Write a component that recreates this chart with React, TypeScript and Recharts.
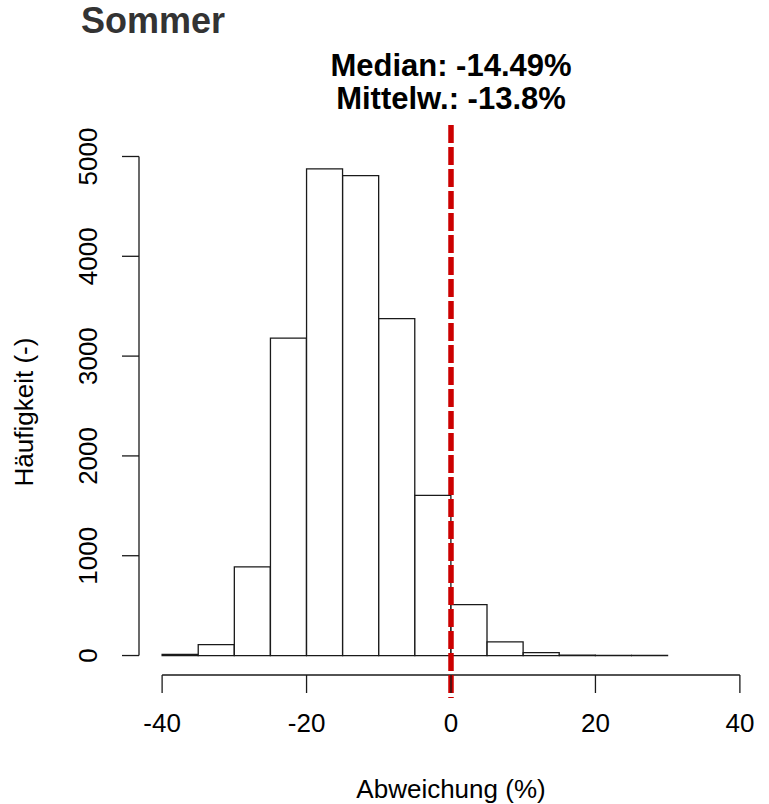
import React from 'react';
import { ComposedChart, Bar, XAxis, YAxis, ReferenceLine } from 'recharts';

// ---- data ----
const binStarts = [-40, -35, -30, -25, -20, -15, -10, -5, 0, 5, 10, 15, 20, 25];
const binWidth = 5;
const counts = [12, 110, 888, 3181, 4875, 4808, 3375, 1605, 511, 136, 30, 4, 2, 1];
const xTicks = [-40, -20, 0, 20, 40];
const yTicks = [0, 1000, 2000, 3000, 4000, 5000];
const xDomain: [number, number] = [-43.2, 43.2];
const yDomain: [number, number] = [-195, 5070];
const refX = 0;
const refLineYRange = [-426, 5316];
const titleText = 'Sommer';
const statLines = ['Median: -14.49%', 'Mittelw.: -13.8%'];
const xLabel = 'Abweichung (%)';
const yLabel = 'Häufigkeit (-)';

const data = binStarts.map((s, i) => ({ mid: s + binWidth / 2, count: counts[i] }));

const FONT = '"Liberation Sans", Arial, Helvetica, sans-serif';
const W = 769;
const H = 804;

const XTick = (props: any) => {
  const { x, y, payload } = props;
  return (
    <text x={x} y={y} dy="0.71em" textAnchor="middle" fontSize={26} fontFamily={FONT} fill="#000">
      {payload.value}
    </text>
  );
};

const YTick = (props: any) => {
  const { x, y, payload } = props;
  return (
    <text
      transform={`translate(${x},${y}) rotate(-90)`}
      textAnchor="middle"
      fontSize={26}
      fontFamily={FONT}
      fill="#000"
    >
      {payload.value}
    </text>
  );
};

export default function App() {
  return (
    <div style={{ position: 'absolute', left: 0, top: 0, width: W, height: H, background: '#fff', overflow: 'hidden' }}>
      <ComposedChart
        width={W}
        height={H}
        data={data}
        margin={{ top: 149.5, right: 6, bottom: 5, left: 0 }}
        barCategoryGap={0}
        barGap={0}
      >
        <XAxis
          dataKey="mid"
          type="number"
          domain={xDomain}
          ticks={xTicks}
          allowDataOverflow
          axisLine={false}
          tickLine={{ stroke: '#1a1a1a', strokeWidth: 1.3 }}
          tickSize={18}
          tickMargin={21}
          tick={<XTick />}
          height={124}
          interval={0}
        />
        <YAxis
          type="number"
          domain={yDomain}
          ticks={yTicks}
          allowDataOverflow
          axisLine={false}
          tickLine={{ stroke: '#1a1a1a', strokeWidth: 1.3 }}
          tickSize={17}
          tickMargin={25}
          tick={<YTick />}
          width={139}
          interval={0}
        />
        <Bar dataKey="count" fill="#ffffff" stroke="#1a1a1a" strokeWidth={1.3} isAnimationActive={false} />
        <ReferenceLine
          segment={[{ x: xTicks[0], y: yDomain[0] }, { x: xTicks[xTicks.length - 1], y: yDomain[0] }]}
          stroke="#1a1a1a"
          strokeWidth={1.3}
          ifOverflow="visible"
        />
        <ReferenceLine
          segment={[{ x: xDomain[0], y: yTicks[0] }, { x: xDomain[0], y: yTicks[yTicks.length - 1] }]}
          stroke="#1a1a1a"
          strokeWidth={1.3}
          ifOverflow="visible"
        />
        <ReferenceLine
          segment={[{ x: refX, y: refLineYRange[1] }, { x: refX, y: refLineYRange[0] }]}
          stroke="#CC0000"
          strokeWidth={5.5}
          strokeDasharray="18 4"
          ifOverflow="visible"
        />
      </ComposedChart>
      <svg
        width={W}
        height={H}
        style={{ position: 'absolute', left: 0, top: 0, pointerEvents: 'none' }}
      >
        <text x={81} y={33} fontSize={36} fontWeight="bold" fontFamily={FONT} fill="#333333">
          {titleText}
        </text>
        <text x={451} y={76} textAnchor="middle" fontSize={31} fontWeight="bold" fontFamily={FONT} fill="#000">
          {statLines[0]}
        </text>
        <text x={451} y={109} textAnchor="middle" fontSize={31} fontWeight="bold" fontFamily={FONT} fill="#000">
          {statLines[1]}
        </text>
        <text x={451} y={798} textAnchor="middle" fontSize={26} fontFamily={FONT} fill="#000">
          {xLabel}
        </text>
        <text
          transform={`translate(33,412) rotate(-90)`}
          textAnchor="middle"
          fontSize={26}
          fontFamily={FONT}
          fill="#000"
        >
          {yLabel}
        </text>
      </svg>
    </div>
  );
}
